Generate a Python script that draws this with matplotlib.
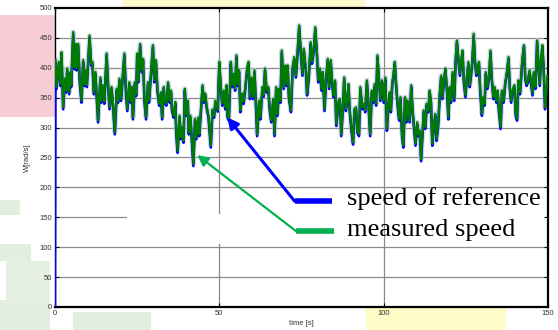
import matplotlib
matplotlib.use('Agg')
import matplotlib.pyplot as plt
import matplotlib.transforms as mtransforms
from matplotlib.patches import Rectangle

# measured speed (peaks / troughs)
time_s = [
    0.15, 0.46, 1.17, 1.67, 1.98, 2.48, 2.99, 3.40, 3.70, 4.31, 4.72, 4.92,
    5.53, 5.94, 6.34, 6.54, 7.05, 7.56, 8.06, 8.57, 8.98, 9.28, 9.69, 10.5,
    11.0, 11.4, 11.8, 12.3, 13.1, 13.8, 14.1, 14.6, 15.0, 15.7, 16.2, 16.6,
    17.2, 17.6, 18.2, 18.8, 19.2, 19.6, 20.1, 21.1, 21.6, 22.0, 22.6, 23.0,
    23.4, 23.7, 24.3, 24.7, 25.0, 25.4, 25.9, 26.4, 26.8, 27.2, 27.7, 28.3,
    28.6, 29.5, 29.8, 30.2, 30.7, 31.2, 31.7, 32.2, 32.6, 33.1, 33.4, 33.9,
    34.4, 34.9, 35.3, 35.6, 36.1, 36.6, 36.9, 37.3, 37.9, 38.3, 38.7, 39.1,
    39.5, 39.9, 40.4, 40.7, 41.2, 41.6, 42.1, 42.6, 43.0, 43.6, 43.9, 44.4,
    44.9, 45.3, 45.7, 46.2, 46.7, 47.4, 47.9, 48.4, 48.8, 49.5, 50.0, 50.4,
    50.9, 51.4, 51.8, 52.2, 52.5, 52.9, 53.5, 53.9, 54.4, 54.8, 55.2, 55.6,
    56.0, 56.4, 56.9, 57.4, 57.9, 58.5, 58.9, 59.3, 59.8, 60.2, 60.7, 61.1,
    61.5, 62.1, 62.5, 63.1, 63.5, 63.9, 64.4, 64.9, 65.3, 65.8, 66.4, 66.8,
    67.3, 67.7, 68.1, 68.6, 69.0, 69.6, 70.1, 70.5, 70.8, 71.2, 71.8, 72.3,
    72.8, 73.3, 73.8, 74.3, 74.8, 75.3, 75.7, 76.3, 76.7, 77.2, 77.8, 78.2,
    78.7, 79.2, 79.7, 80.1, 80.6, 81.1, 81.5, 82.0, 82.5, 83.0, 83.4, 83.9,
    84.4, 84.8, 85.2, 85.6, 86.3, 86.7, 87.1, 87.6, 88.0, 88.5, 88.9, 89.3,
    89.7, 90.2, 90.7, 91.1, 91.6, 92.0, 92.5, 92.9, 93.5, 94.0, 94.4, 94.9,
    95.4, 95.9, 96.4, 96.9, 97.3, 97.7, 98.1, 98.6, 99.0, 99.5, 100.0, 100.5,
    101.0, 101.4, 101.8, 102.2, 102.6, 103.0, 103.4, 103.8, 104.2, 104.7, 105.1, 105.6,
    106.0, 106.5, 106.9, 107.3, 107.9, 108.4, 108.8, 109.2, 109.7, 110.2, 110.6, 111.0,
    111.4, 111.8, 112.2, 112.7, 113.1, 113.6, 114.0, 114.4, 114.8, 115.3, 115.7, 116.1,
    116.6, 117.1, 117.5, 117.9, 118.4, 118.8, 119.3, 119.7, 120.1, 120.5, 121.0, 121.5,
    121.9, 122.3, 122.8, 123.2, 123.6, 124.0, 124.4, 124.9, 125.3, 125.8, 126.2, 126.6,
    127.0, 127.4, 127.8, 128.2, 128.6, 129.0, 129.4, 129.9, 130.3, 130.7, 131.1, 131.6,
    132.1, 132.5, 132.9, 133.4, 133.8, 134.3, 134.7, 135.1, 135.6, 136.0, 136.5, 137.0,
    137.5, 138.0, 138.4, 138.8, 139.3, 139.8, 140.2, 140.6, 141.0, 141.5, 141.8, 142.2,
    142.7, 143.1, 143.5, 143.9, 144.4, 144.8, 145.3, 145.7, 146.2, 146.7, 147.1, 147.5,
    147.9, 148.3, 148.7, 149.1, 149.5, 149.9, 150.0,
]
speed_meas = [
    413, 368, 410, 373, 426, 334, 382, 362, 399, 359, 393, 371,
    460, 401, 440, 399, 440, 376, 345, 413, 373, 396, 371, 454,
    407, 410, 359, 393, 312, 384, 345, 371, 343, 424, 368, 334,
    368, 343, 292, 365, 345, 382, 348, 424, 359, 331, 376, 345,
    368, 317, 376, 356, 424, 379, 440, 396, 415, 348, 317, 376,
    345, 415, 438, 379, 413, 362, 340, 359, 317, 368, 345, 340,
    376, 345, 362, 331, 320, 343, 292, 261, 320, 284, 301, 278,
    365, 323, 345, 292, 320, 284, 239, 315, 284, 317, 289, 329,
    371, 345, 357, 334, 320, 270, 330, 320, 345, 330, 410, 373,
    340, 362, 334, 371, 320, 315, 410, 371, 390, 365, 421, 373,
    396, 329, 357, 343, 368, 401, 410, 351, 384, 351, 396, 345,
    289, 345, 317, 368, 355, 399, 362, 368, 334, 312, 348, 289,
    368, 323, 365, 345, 429, 368, 404, 373, 404, 351, 329, 401,
    418, 387, 426, 471, 426, 390, 432, 401, 357, 384, 443, 410,
    429, 468, 424, 379, 399, 365, 393, 331, 384, 415, 368, 413,
    371, 354, 379, 306, 345, 348, 289, 334, 384, 331, 345, 373,
    329, 298, 275, 331, 334, 295, 289, 368, 334, 340, 329, 379,
    340, 289, 362, 345, 373, 340, 421, 382, 348, 379, 345, 384,
    298, 334, 359, 329, 373, 390, 410, 373, 343, 315, 351, 289,
    270, 351, 312, 345, 312, 371, 331, 306, 273, 309, 289, 295,
    247, 289, 329, 301, 340, 329, 362, 345, 273, 306, 323, 281,
    306, 359, 387, 351, 384, 399, 362, 317, 368, 345, 393, 348,
    413, 446, 413, 390, 413, 429, 379, 354, 384, 410, 371, 390,
    413, 457, 413, 390, 401, 410, 362, 323, 351, 340, 393, 368,
    387, 429, 384, 351, 368, 345, 362, 329, 301, 362, 345, 376,
    393, 418, 368, 345, 365, 371, 323, 315, 379, 359, 382, 415,
    438, 384, 373, 379, 396, 379, 357, 393, 368, 446, 410, 373,
    415, 438, 401, 334, 359, 387, 380,
]
# reference speed follows the measured one, starting from 0 at t=0
time_ref = [0.0] + time_s
speed_ref = [0.0] + speed_meas

x_ticks = [0, 50, 100, 150]
y_ticks = [0, 50, 100, 150, 200, 250, 300, 350, 400, 450, 500]

fig = plt.figure(figsize=(5.58, 3.30), dpi=100)
fig.patch.set_facecolor('white')

# faded watermark blocks behind the chart
for (x, y, w, h, c, a) in [
    (0.0, 0.645, 0.098, 0.31, '#f7cdd5', 1.0),
    (0.22, 0.976, 0.434, 0.024, '#fcf8cc', 1.0),
    (0.656, 0.0, 0.25, 0.067, '#fdfbc6', 1.0),
    (0.0, 0.35, 0.035, 0.045, '#dcebd6', 0.8),
    (0.0, 0.21, 0.055, 0.05, '#dcebd6', 0.8),
    (0.01, 0.09, 0.08, 0.12, '#dcebd6', 0.7),
    (0.0, 0.0, 0.09, 0.09, '#dcebd6', 0.8),
    (0.13, 0.0, 0.14, 0.055, '#dcebd6', 0.8),
]:
    fig.patches.append(Rectangle((x, y), w, h, transform=fig.transFigure,
                                 facecolor=c, edgecolor='none', alpha=a, zorder=-5))

ax = fig.add_axes([0.0986, 0.0697, 0.8834, 0.9061])
ax.set_zorder(2)
ax.set_facecolor('white')
ax.set_xlim(0, 150)
ax.set_ylim(0, 500)

# grid, drawn by hand because parts of it are hidden in the original
grid_kw = dict(color='#8a8a8a', lw=0.9, zorder=1)
for yv in y_ticks[1:-1]:
    if yv == 150:
        ax.axhline(yv, xmax=0.143, **grid_kw)
    else:
        ax.axhline(yv, **grid_kw)
ax.axvline(50, ymin=0.0, ymax=0.21, **grid_kw)
ax.axvline(50, ymin=0.314, ymax=1.0, **grid_kw)
ax.axvline(100, **grid_kw)

shift = mtransforms.ScaledTranslation(0, -1.5 / 72, fig.dpi_scale_trans)
ax.plot(time_s, speed_meas, color='#b4c4dc', lw=3.6, alpha=0.7, zorder=2)
ax.plot(time_ref, speed_ref, color='#0000ff', lw=1.8, zorder=3,
        transform=ax.transData + shift)
ax.plot(time_s, speed_meas, color='#007d00', lw=1.6, zorder=4)

ax.set_xticks(x_ticks)
ax.set_yticks(y_ticks)
ax.tick_params(direction='in', length=3, width=0.8, top=True, right=True,
               labelsize=5.5, labelcolor='#333333', pad=2)
for lab in ax.get_xticklabels() + ax.get_yticklabels():
    lab.set_family('Liberation Sans')
for side in ['top', 'right', 'bottom']:
    ax.spines[side].set_linewidth(1.6)
ax.spines['left'].set_linewidth(1.0)

ax.set_xlabel('time [s]', fontsize=5.5, family='Liberation Sans', color='#333333', labelpad=2)
ax.set_ylabel('W[rad/s]', fontsize=5.5, family='Liberation Sans', color='#333333', labelpad=6)

# pointer arrows and legend-like labels
ax.annotate('', xy=(52.4, 317), xytext=(72.9, 177),
            arrowprops=dict(arrowstyle='-|>', color='#0000ff', lw=2.2,
                            mutation_scale=16, shrinkA=0, shrinkB=0), zorder=6)
ax.annotate('', xy=(43.3, 254), xytext=(73.3, 127),
            arrowprops=dict(arrowstyle='-|>', color='#00b050', lw=1.6,
                            mutation_scale=16, shrinkA=0, shrinkB=0), zorder=6)
ax.plot([72.9, 84.4], [177, 177], color='#0000ff', lw=4.0, solid_capstyle='butt', zorder=6)
ax.plot([73.3, 85.0], [127, 127], color='#00b050', lw=4.0, solid_capstyle='butt', zorder=6)
ax.text(89.0, 181, 'speed of reference', family='Liberation Serif', fontsize=19,
        va='center', ha='left', color='black', zorder=7)
ax.text(89.0, 129, 'measured speed', family='Liberation Serif', fontsize=19,
        va='center', ha='left', color='black', zorder=7)

plt.savefig('out.png', dpi=100, facecolor='white')
plt.close()
